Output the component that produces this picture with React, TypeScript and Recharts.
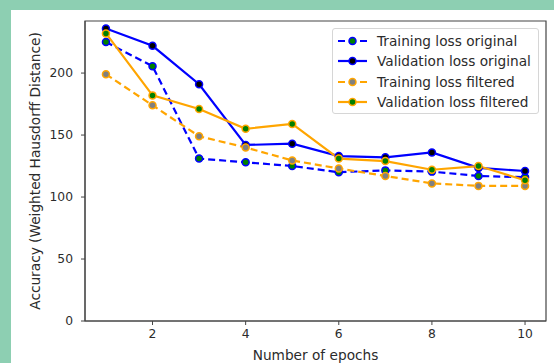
import { LineChart, Line, XAxis, YAxis, Legend, ReferenceArea } from "recharts";

// Epochs and loss values.
const EPOCHS = [1, 2, 3, 4, 5, 6, 7, 8, 9, 10];
const TRAIN_ORIGINAL = [225, 205.5, 131, 128, 125, 120, 121.5, 120.5, 117, 116];
const VAL_ORIGINAL = [236, 222, 191, 142, 143, 133, 132, 136, 123.5, 121];
const TRAIN_FILTERED = [199, 174, 149, 140, 129.5, 123, 117, 111, 109, 109];
const VAL_FILTERED = [232, 182, 171, 155, 159, 131, 129, 122, 125, 113.5];

const X_TICKS = [2, 4, 6, 8, 10];
const Y_TICKS = [0, 50, 100, 150, 200];

const BLUE = "#0000ff";
const ORANGE = "#ffa500";
const FONT = "'DejaVu Sans', sans-serif";
const TEXT = "#2b2b2b";
const LABEL_SIZE = 13.7;

const SERIES = [
  { key: "trainOrig", name: "Training loss original", stroke: BLUE, fill: "#008000", dashed: true },
  { key: "valOrig", name: "Validation loss original", stroke: BLUE, fill: "#000000", dashed: false },
  { key: "trainFilt", name: "Training loss filtered", stroke: ORANGE, fill: "#808080", dashed: true },
  { key: "valFilt", name: "Validation loss filtered", stroke: ORANGE, fill: "#008000", dashed: false },
];

const data = EPOCHS.map((epoch, i) => ({
  epoch,
  trainOrig: TRAIN_ORIGINAL[i],
  valOrig: VAL_ORIGINAL[i],
  trainFilt: TRAIN_FILTERED[i],
  valFilt: VAL_FILTERED[i],
}));

function LegendBox() {
  return (
    <div
      style={{
        width: 207,
        height: 86,
        border: "1px solid #d6d6d6",
        borderRadius: 3,
        background: "rgba(255,255,255,0.85)",
        fontFamily: FONT,
        fontSize: LABEL_SIZE,
        color: TEXT,
        boxSizing: "border-box",
        paddingTop: 2,
        whiteSpace: "nowrap",
      }}
    >
      {SERIES.map((s) => (
        <div key={s.key} style={{ display: "flex", alignItems: "center", height: 20.3 }}>
          <svg width={40} height={12} style={{ marginLeft: 4, flexShrink: 0 }}>
            <line
              x1={1}
              x2={30}
              y1={6}
              y2={6}
              stroke={s.stroke}
              strokeWidth={2.2}
              strokeDasharray={s.dashed ? "7 4" : undefined}
            />
            <circle cx={15.5} cy={6} r={3.5} fill={s.fill} stroke={s.stroke} strokeWidth={1.5} />
          </svg>
          <span>{s.name}</span>
        </div>
      ))}
    </div>
  );
}

export default function App() {
  return (
    <div
      style={{
        position: "fixed",
        left: 0,
        top: 0,
        width: 554,
        height: 363,
        background: "#8dcfb2",
      }}
    >
      <div style={{ position: "absolute", left: 11, top: 10, width: 543, height: 353, background: "#fff" }}>
        <LineChart width={543} height={353} data={data} margin={{ top: 11, right: 8, bottom: 0, left: 0 }}>
          <XAxis
            dataKey="epoch"
            type="number"
            domain={[0.55, 10.45]}
            ticks={X_TICKS}
            allowDataOverflow
            height={42}
            tickSize={4}
            tickMargin={4}
            stroke="#444"
            tick={{ fill: TEXT, fontSize: 12.3, fontFamily: FONT }}
            label={{
              value: "Number of epochs",
              position: "insideBottom",
              offset: 3,
              style: { fill: TEXT, fontSize: LABEL_SIZE, fontFamily: FONT },
            }}
          />
          <YAxis
            type="number"
            domain={[0, 242]}
            ticks={Y_TICKS}
            allowDataOverflow
            width={74}
            tickSize={4}
            tickMargin={8}
            stroke="#444"
            tick={{ fill: TEXT, fontSize: 12.3, fontFamily: FONT }}
            label={{
              value: "Accuracy (Weighted Hausdorff Distance)",
              angle: -90,
              position: "insideLeft",
              offset: 24,
              style: { fill: TEXT, fontSize: LABEL_SIZE, fontFamily: FONT, textAnchor: "middle" },
            }}
          />
          <ReferenceArea x1={0.55} x2={10.45} y1={0} y2={242} fill="none" stroke="#444" strokeWidth={1.2} />
          {SERIES.map((s) => (
            <Line
              key={s.key}
              dataKey={s.key}
              name={s.name}
              type="linear"
              stroke={s.stroke}
              strokeWidth={2.2}
              strokeDasharray={s.dashed ? "7 4" : undefined}
              dot={{ r: 3.5, fill: s.fill, stroke: s.stroke, strokeWidth: 1.5, strokeDasharray: "" }}
              activeDot={false}
              isAnimationActive={false}
            />
          ))}
          <Legend
            layout="vertical"
            align="center"
            verticalAlign="middle"
            content={() => <LegendBox />}
            wrapperStyle={{ position: "absolute", left: 321, top: 18, width: 207, height: 86 }}
          />
        </LineChart>
      </div>
    </div>
  );
}
